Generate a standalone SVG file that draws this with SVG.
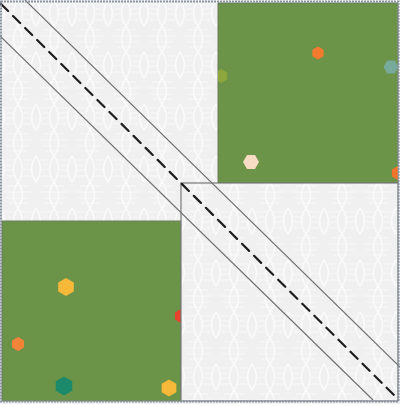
<svg xmlns="http://www.w3.org/2000/svg" width="400" height="404" viewBox="0 0 400 404">
  <defs>
    <style>
      .green { fill: #6b9448; stroke: #6a7a60; stroke-width: 1; }
      .box { fill: url(#damask); stroke: #7a7a7a; stroke-width: 1.2; }
      .edge { stroke: #6e6e6e; stroke-width: 1.1; fill: none; }
      .dash { stroke: #1e1e1e; stroke-width: 2.2; fill: none; stroke-dasharray: 10 7; stroke-linecap: round; }
    </style>
    <pattern id="damask" width="36" height="52" patternUnits="userSpaceOnUse">
      <rect width="36" height="52" fill="#f0f0f0"/>
      <g stroke="#fafafa" fill="none" stroke-width="1.6">
        <path d="M0,0 Q9,13 0,26 Q-9,39 0,52"/>
        <path d="M36,0 Q27,13 36,26 Q45,39 36,52"/>
        <path d="M18,0 Q9,13 18,26 Q27,39 18,52"/>
        <path d="M18,0 Q27,13 18,26 Q9,39 18,52"/>
      </g>
      <g stroke="#f9f9f9" stroke-width="1">
        <path d="M4,4 H14 M22,4 H32 M6,9 H12 M24,9 H30 M3,14 H15 M21,14 H33 M5,20 H13 M23,20 H31 M8,30 H28 M4,36 H32 M6,42 H30 M9,47 H27"/>
      </g>
    </pattern>
    <polygon id="hexP" points="0,-1 0.866,-0.5 0.866,0.5 0,1 -0.866,0.5 -0.866,-0.5"/>
    <polygon id="hexF" points="-1,0 -0.5,-0.866 0.5,-0.866 1,0 0.5,0.866 -0.5,0.866"/>
    <clipPath id="clipTR"><rect x="218" y="3" width="180" height="180"/></clipPath>
    <clipPath id="clipBL"><rect x="2" y="221" width="179" height="180"/></clipPath>
  </defs>

  <g id="background">
    <rect x="0" y="0" width="400" height="404" fill="url(#damask)"/>
  </g>

  <g id="square-top-right">
    <rect class="green" x="218" y="3" width="180" height="180"/>
    <g clip-path="url(#clipTR)">
      <use href="#hexP" transform="translate(318,53) scale(6.5)" fill="#f47b2e"/>
      <use href="#hexF" transform="translate(391,67) scale(7.5)" fill="#78aa9c"/>
      <use href="#hexP" transform="translate(221,76) scale(7)" fill="#8fa63c"/>
      <use href="#hexF" transform="translate(251,162) scale(8)" fill="#f6dcc2"/>
      <use href="#hexP" transform="translate(398,173) scale(7)" fill="#f4732a"/>
    </g>
  </g>

  <g id="square-bottom-left">
    <rect class="green" x="2" y="221" width="179" height="180"/>
    <g clip-path="url(#clipBL)">
      <use href="#hexP" transform="translate(66,287) scale(9)" fill="#f6b93a"/>
      <use href="#hexP" transform="translate(181,316) scale(7)" fill="#e8412e"/>
      <use href="#hexP" transform="translate(18,344) scale(7)" fill="#f4843a"/>
      <use href="#hexP" transform="translate(64,386) scale(9.5)" fill="#1b8a6a"/>
      <use href="#hexP" transform="translate(169,388) scale(8.5)" fill="#f6b93a"/>
    </g>
  </g>

  <g id="square-bottom-right">
    <rect class="box" x="181" y="183" width="217" height="218"/>
  </g>

  <g id="connectors">
    <line class="edge" x1="25" y1="0" x2="400" y2="367"/>
    <line class="edge" x1="0" y1="36" x2="373" y2="400"/>
    <line class="dash" x1="1" y1="4" x2="398" y2="399"/>
  </g>

  <g id="frame">
    <rect x="1" y="1.5" width="397.5" height="400" fill="none" stroke="#8c96a3" stroke-width="2" stroke-dasharray="2 1"/>
  </g>
</svg>
